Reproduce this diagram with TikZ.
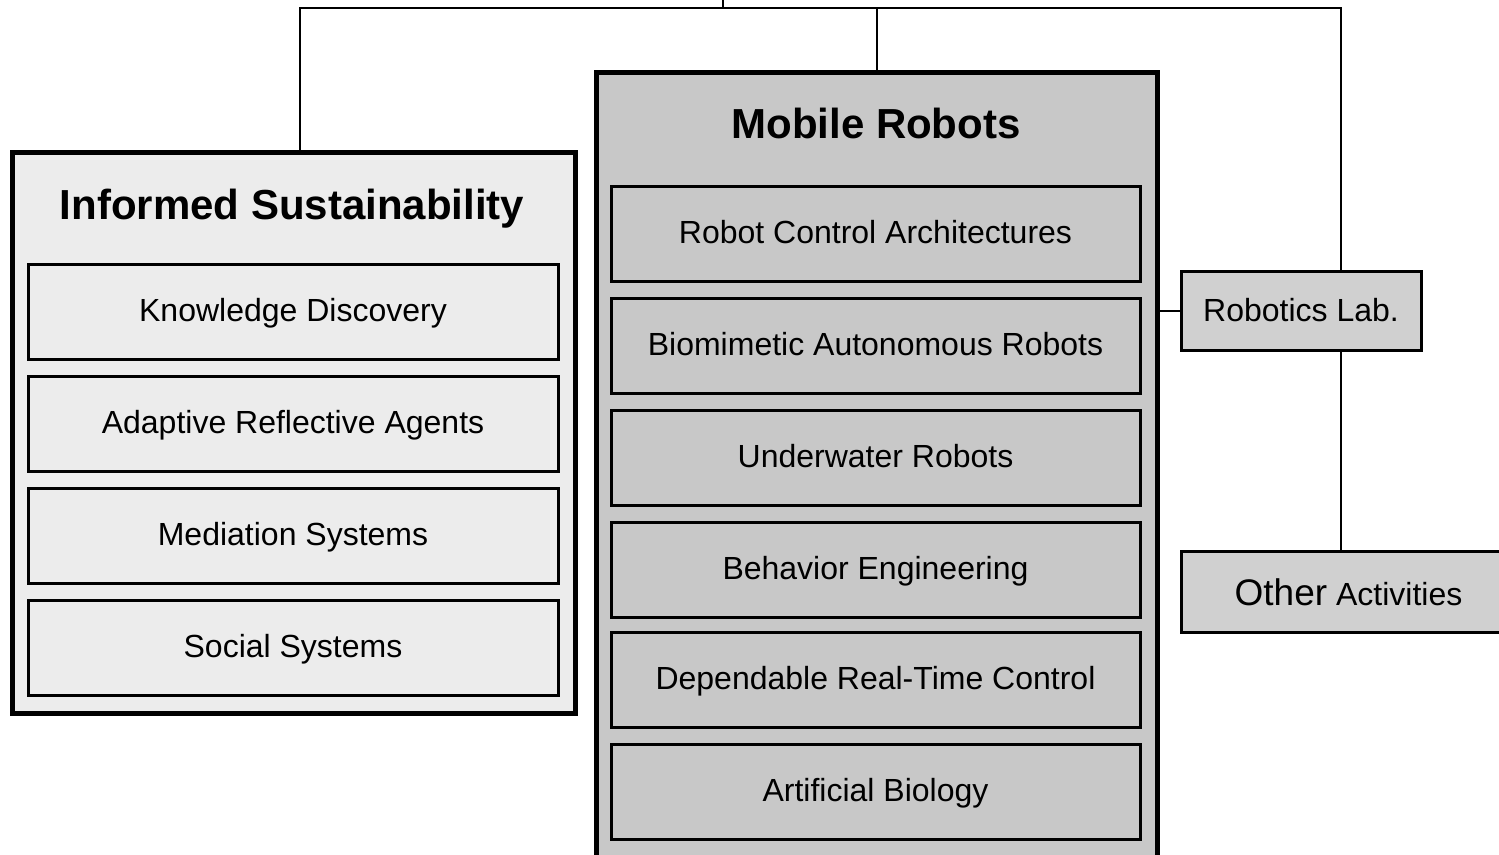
\documentclass[tikz,border=0pt]{standalone}
\usepackage{fontspec}
\setmainfont{Liberation Sans}
\definecolor{islight}{HTML}{ECECEC}
\definecolor{mrgray}{HTML}{C8C8C8}
\definecolor{labgray}{HTML}{D0D0D0}
\tikzset{
  groupbox/.style={draw=black, line width=5pt, rectangle, inner sep=0pt},
  topicbox/.style={draw=black, line width=3pt, rectangle, inner sep=0pt,
    minimum height=95pt, text height=20pt, text depth=0pt,
    font=\fontsize{32}{37}\selectfont},
  unitbox/.style={draw=black, line width=3pt, fill=labgray, rectangle, inner sep=0pt,
    text height=22pt, text depth=0pt, font=\fontsize{32}{37}\selectfont},
  heading/.style={anchor=base, inner sep=0pt, font=\fontsize{42}{48}\selectfont\bfseries},
  wire/.style={draw=black, line width=2pt},
}
\begin{document}
\begin{tikzpicture}[x=1pt, y=-1pt]
  \useasboundingbox (0,0) rectangle (1499,854);
  \clip (0,0) rectangle (1499,854);

  % Informed Sustainability group
  \node[groupbox, fill=islight, minimum width=563pt, minimum height=561pt] (is) at (293.5,432.5) {};
  \node[heading] (istitle) at (292,219) {Informed Sustainability};
  \node[topicbox, fill=islight, minimum width=530pt] (kd) at (293,311.5) {Knowledge Discovery};
  \node[topicbox, fill=islight, minimum width=530pt] (ara) at (293,423.5) {Adaptive Reflective Agents};
  \node[topicbox, fill=islight, minimum width=530pt] (ms) at (293,535.5) {Mediation Systems};
  \node[topicbox, fill=islight, minimum width=530pt] (ss) at (293,647.5) {Social Systems};

  % Mobile Robots group
  \node[groupbox, fill=mrgray, minimum width=561pt, minimum height=798pt] (mr) at (876.5,471) {};
  \node[heading] (mrtitle) at (876,138) {Mobile Robots};
  \node[topicbox, fill=mrgray, minimum width=529pt] (rca) at (875.5,233.5) {Robot Control Architectures};
  \node[topicbox, fill=mrgray, minimum width=529pt] (bar) at (875.5,345.5) {Biomimetic Autonomous Robots};
  \node[topicbox, fill=mrgray, minimum width=529pt] (uwr) at (875.5,457.5) {Underwater Robots};
  \node[topicbox, fill=mrgray, minimum width=529pt] (be) at (875.5,569.5) {Behavior Engineering};
  \node[topicbox, fill=mrgray, minimum width=529pt] (drt) at (875.5,679.5) {Dependable Real-Time Control};
  \node[topicbox, fill=mrgray, minimum width=529pt] (ab) at (875.5,791.5) {Artificial Biology};

  % Lab and other activities
  \node[unitbox, minimum width=240pt, minimum height=79pt] (rl) at (1301,310.5) {Robotics Lab.};
  \node[unitbox, minimum width=335pt, minimum height=81pt, text height=28pt] (oa) at (1348.5,591.5)
    {{\fontsize{37}{42}\selectfont Other} Activities};

  % Connectors
  \coordinate (stub) at (723,0);
  \coordinate (bus) at (723,8);
  \coordinate (busL) at (300,8);
  \coordinate (busR) at (1341,8);
  \draw[wire] (stub) -- (bus);
  \draw[wire] (busL |- is.north) -- (busL) -- (busR) -- (busR |- rl.north);
  \draw[wire] (mr.north) -- (mr.north |- bus);
  \draw[wire] (rl.west -| mr.east) -- (rl.west);
  \draw[wire] (rl.south -| busR) -- (oa.north -| busR);
\end{tikzpicture}
\end{document}
